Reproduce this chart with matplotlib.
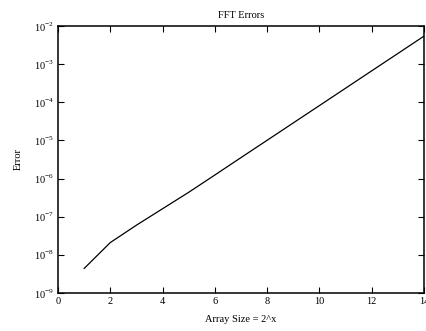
import matplotlib
matplotlib.use("Agg")
import matplotlib.pyplot as plt
import numpy as np

array_exp = [1, 2, 3, 4, 5, 6, 7, 8, 9, 10, 11, 12, 13, 14]
fft_error = [4.4e-9, 2.1e-8, 6.0e-8, 1.62e-7, 4.37e-7, 1.24e-6, 3.55e-6,
             1.01e-5, 2.88e-5, 8.2e-5, 2.34e-4, 6.68e-4, 1.9e-3, 5.43e-3]
x_ticks = [0, 2, 4, 6, 8, 10, 12, 14]
y_ticks = [1e-9, 1e-8, 1e-7, 1e-6, 1e-5, 1e-4, 1e-3, 1e-2]

plt.rcParams['font.family'] = ['Liberation Serif', 'DejaVu Serif']
plt.rcParams['mathtext.fontset'] = 'custom'
plt.rcParams['mathtext.rm'] = 'Liberation Serif'

fig = plt.figure(figsize=(4.27, 3.31), dpi=100)
ax = fig.add_axes([58/427, 1-293/331, (424-58)/427, (293-26)/331])
ax.plot(array_exp, fft_error, color='black', linewidth=0.9)
ax.set_yscale('log')
ax.set_xlim(0, 14)
ax.set_ylim(1e-9, 1e-2)
ax.set_xticks(x_ticks)
ax.set_xticklabels([str(t) for t in x_ticks])
ax.set_yticks(y_ticks)
ax.set_yticklabels([r'$10^{%d}$' % int(np.log10(t)) for t in y_ticks])
ax.minorticks_off()
ax.tick_params(direction='in', length=4, width=0.8, top=True, right=True,
               labelsize=7.5, pad=3)
for s in ax.spines.values():
    s.set_linewidth(1.1)
ax.set_title('FFT Errors', fontsize=7.5, pad=6)
ax.set_xlabel('Array Size = 2^x', fontsize=7.5, labelpad=6)
ax.set_ylabel('Error', fontsize=7.5, labelpad=8)
fig.savefig('out.png', dpi=100)
